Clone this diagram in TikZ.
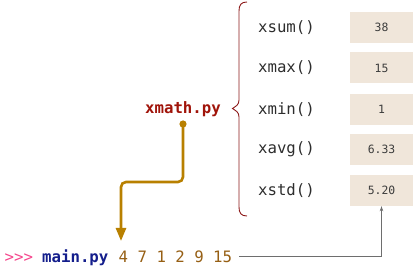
\documentclass[tikz,border=0pt]{standalone}
\usepackage{fontspec}
\setmonofont{DejaVu Sans Mono}
\usetikzlibrary{arrows.meta}

\definecolor{promptpink}{RGB}{245,70,140}
\definecolor{mainnavy}{RGB}{20,30,140}
\definecolor{argbrown}{RGB}{150,95,20}
\definecolor{flowgold}{RGB}{184,128,0}
\definecolor{bracered}{RGB}{140,25,25}
\definecolor{modred}{RGB}{160,20,10}
\definecolor{linkgray}{RGB}{110,110,110}
\definecolor{cellfill}{RGB}{240,230,218}
\definecolor{fntext}{RGB}{45,45,45}
\definecolor{valtext}{RGB}{60,60,60}

\tikzset{
  mono/.style={font=\ttfamily\fontsize{15.7}{18}\selectfont, inner sep=0pt},
  fn/.style={mono, text=fntext},
  valbox/.style={fill=cellfill, minimum width=63pt, minimum height=31pt, inner sep=0pt,
                 text=valtext, font=\ttfamily\fontsize{11.4}{13}\selectfont},
  modname/.style={mono, font=\ttfamily\bfseries\fontsize{15.7}{18}\selectfont, text=modred},
  cmdtext/.style={mono, anchor=base west},
  flow/.style={draw=flowgold, line width=2.6pt, rounded corners=5pt,
               -{Triangle[width=10pt,length=13pt]}},
  link/.style={draw=linkgray, line width=0.8pt, -{Stealth[length=5pt,width=3.5pt]}},
  brace/.style={draw=bracered, line width=0.9pt}
}

\begin{document}
\begin{tikzpicture}[x=1pt,y=-1pt]
  \useasboundingbox (0,0) rectangle (413,272);

  % functions of the module
  \node[fn] (f1) at (286.5,27.5)  {xsum()};
  \node[fn] (f2) at (286.5,68)    {xmax()};
  \node[fn] (f3) at (286.5,109.5) {xmin()};
  \node[fn] (f4) at (286.5,149.5) {xavg()};
  \node[fn] (f5) at (286.5,190.5) {xstd()};

  % result cells
  \node[valbox] (v1) at (381.5,27.5)  {38};
  \node[valbox] (v2) at (381.5,68)    {15};
  \node[valbox] (v3) at (381.5,109.5) {1};
  \node[valbox] (v4) at (381.5,149.5) {6.33};
  \node[valbox] (v5) at (381.5,190.5) {5.20};

  % curly brace grouping the functions
  \draw[brace] (247,2)
    .. controls (241,2) and (239,5) .. (239,11)
    -- (239,100)
    .. controls (239,105) and (236,106) .. (232.5,108.5)
    .. controls (236,111) and (239,112) .. (239,117)
    -- (239,207)
    .. controls (239,213) and (241,216) .. (247,216);

  % module name
  \node[modname] (xm) at (183,109.5) {xmath.py};
  \coordinate (src) at (183,124);
  \fill[flowgold] (src) circle (3.6pt);

  % command line
  \node[cmdtext, text=promptpink] (prompt) at (4.5,262.5) {>>>};
  \node[cmdtext, font=\ttfamily\bfseries\fontsize{15.7}{18}\selectfont, text=mainnavy] (main) at (42,262.5) {main.py};
  \node[cmdtext, text=argbrown] (args) at (118.5,262.5) {4 7 1 2 9 15};

  % import flow into the script
  \coordinate (tgt) at (121,241);
  \draw[flow] (src) -- (183,182) -- (121,182) -- (tgt);

  % arguments feed the results
  \draw[link] ([xshift=7pt]args.east) -| (v5.south);
\end{tikzpicture}
\end{document}
